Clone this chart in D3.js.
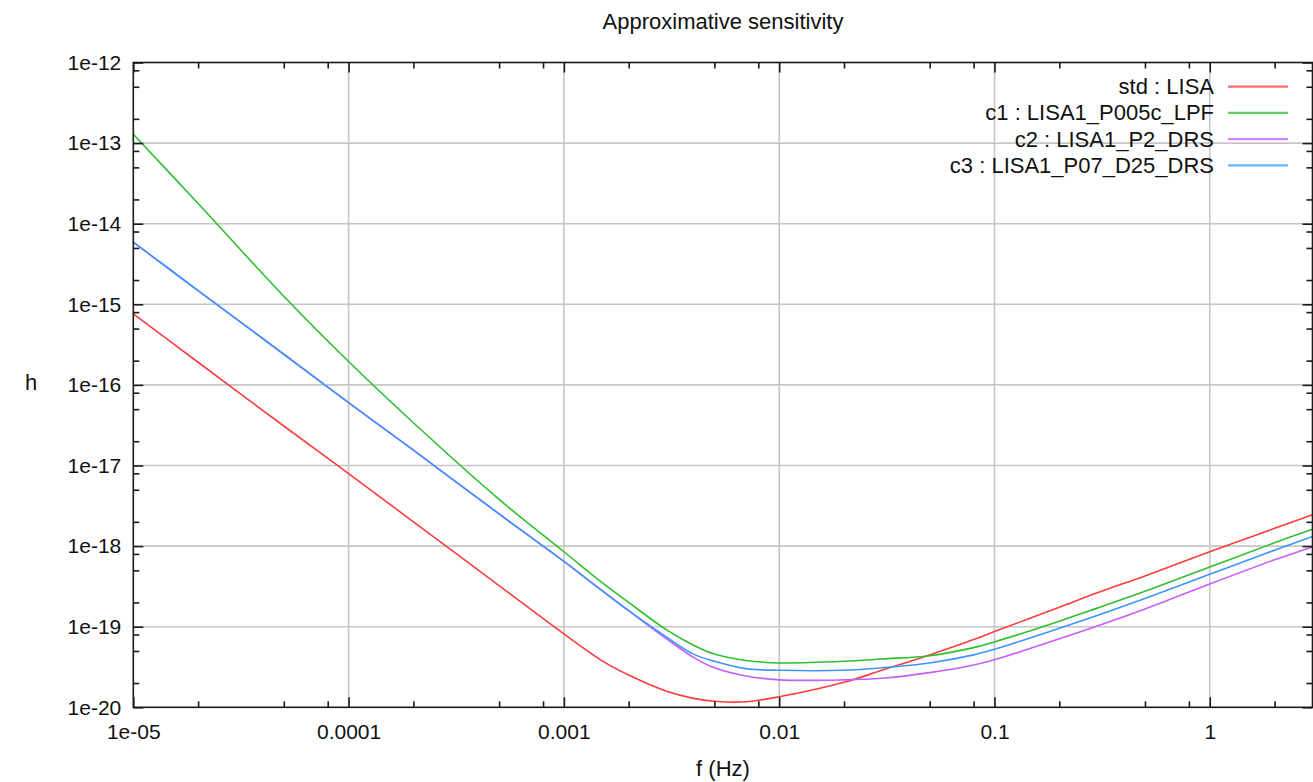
<!DOCTYPE html>
<html>
<head>
<meta charset="utf-8">
<script src="https://cdn.jsdelivr.net/npm/d3@7"></script>
<style>
  body { margin: 0; background: #fff; }
  svg { display: block; font-family: "Liberation Sans", Arial, sans-serif; }
</style>
</head>
<body>
<div id="chart"></div>
<script>
var freqs = [1e-5, 2e-5, 5e-5, 1e-4, 2e-4, 5e-4, 1e-3, 1.5e-3, 2e-3, 3e-3, 4e-3, 5e-3, 7e-3,
  1e-2, 2e-2, 3e-2, 5e-2, 8e-2, 0.1, 0.2, 0.3, 0.5, 1, 2, 3];

var hStd = [7.59e-16, 1.91e-16, 3.09e-17, 7.94e-18, 2.0e-18, 3.24e-19, 8.13e-20, 3.80e-20, 2.51e-20,
  1.58e-20, 1.29e-20, 1.19e-20, 1.17e-20, 1.35e-20, 2.04e-20, 2.88e-20, 4.47e-20, 6.92e-20, 8.71e-20,
  1.74e-19, 2.63e-19, 4.27e-19, 8.51e-19, 1.66e-18, 2.45e-18];

var hC1 = [1.29e-13, 1.78e-14, 1.26e-15, 1.95e-16, 3.39e-17, 3.80e-18, 8.51e-19, 3.55e-19, 2.0e-19,
  9.12e-20, 5.89e-20, 4.57e-20, 3.80e-20, 3.55e-20, 3.72e-20, 3.98e-20, 4.37e-20, 5.50e-20, 6.46e-20,
  1.17e-19, 1.70e-19, 2.75e-19, 5.50e-19, 1.10e-18, 1.62e-18];

var hC2 = [5.89e-15, 1.48e-15, 2.40e-16, 6.03e-17, 1.55e-17, 2.51e-18, 6.46e-19, 2.82e-19, 1.58e-19,
  7.08e-20, 4.17e-20, 3.09e-20, 2.45e-20, 2.19e-20, 2.19e-20, 2.29e-20, 2.69e-20, 3.35e-20, 3.89e-20,
  7.08e-20, 1.02e-19, 1.66e-19, 3.39e-19, 6.76e-19, 9.77e-19];

var hC3 = [5.89e-15, 1.48e-15, 2.40e-16, 6.03e-17, 1.55e-17, 2.51e-18, 6.46e-19, 2.82e-19, 1.58e-19,
  7.41e-20, 4.57e-20, 3.72e-20, 3.02e-20, 2.88e-20, 2.88e-20, 3.09e-20, 3.55e-20, 4.47e-20, 5.25e-20,
  9.55e-20, 1.38e-19, 2.24e-19, 4.47e-19, 8.91e-19, 1.32e-18];

var seriesNames = ["std : LISA", "c1 : LISA1_P005c_LPF", "c2 : LISA1_P2_DRS", "c3 : LISA1_P07_D25_DRS"];
var seriesValues = [hStd, hC1, hC2, hC3];
var seriesColors = ["#ff3c3c", "#2fbf2f", "#c75cff", "#3d95ff"];

var xTickValues = [1e-5, 1e-4, 1e-3, 1e-2, 1e-1, 1];
var xTickLabels = ["1e-05", "0.0001", "0.001", "0.01", "0.1", "1"];
var yTickValues = [1e-12, 1e-13, 1e-14, 1e-15, 1e-16, 1e-17, 1e-18, 1e-19, 1e-20];
var yTickLabels = ["1e-12", "1e-13", "1e-14", "1e-15", "1e-16", "1e-17", "1e-18", "1e-19", "1e-20"];
var minorMult = [2, 5, 8];

var width = 1313, height = 782;
var margin = {top: 62.5, right: 0.5, bottom: 74.7, left: 133.3};

var svg = d3.select("#chart").append("svg")
  .attr("width", width)
  .attr("height", height);

var x = d3.scaleLog()
  .domain([1e-5, 3])
  .range([margin.left, width - margin.right]);

var y = d3.scaleLog()
  .domain([1e-20, 1e-12])
  .range([height - margin.bottom, margin.top]);

// minor ticks at 2, 5, 8 of every decade, kept inside the domain
function minorTicks(scale) {
  var dom = scale.domain();
  var lo = Math.floor(Math.log10(Math.min(dom[0], dom[1])));
  var hi = Math.ceil(Math.log10(Math.max(dom[0], dom[1])));
  var out = [];
  for (var e = lo; e < hi; e++) {
    minorMult.forEach(function (m) {
      var v = m * Math.pow(10, e);
      if (v >= Math.min(dom[0], dom[1]) && v <= Math.max(dom[0], dom[1])) out.push(v);
    });
  }
  return out;
}

var x0 = x.range()[0], x1 = x.range()[1];
var y0 = y.range()[1], y1 = y.range()[0];

// grid
var grid = svg.append("g")
  .attr("stroke", "#c6c6c6")
  .attr("stroke-width", 1.6);

grid.selectAll(".gx").data(xTickValues.slice(1)).join("line")
  .attr("x1", d => x(d)).attr("x2", d => x(d))
  .attr("y1", y0).attr("y2", y1);

grid.selectAll(".gy").data(yTickValues.slice(1, -1)).join("line")
  .attr("x1", x0).attr("x2", x1)
  .attr("y1", d => y(d)).attr("y2", d => y(d));

// curves, purple under blue like the original
var line = d3.line()
  .x(d => x(d[0]))
  .y(d => y(d[1]))
  .curve(d3.curveCatmullRom.alpha(0.5));

var drawOrder = [0, 1, 2, 3];
svg.append("g")
  .attr("fill", "none")
  .attr("stroke-width", 1.6)
  .selectAll("path")
  .data(drawOrder)
  .join("path")
  .attr("stroke", i => seriesColors[i])
  .attr("d", i => line(freqs.map((f, k) => [f, seriesValues[i][k]])));

// axes: ticks point into the plot
var tickStyle = g => g
  .call(g => g.select(".domain").remove())
  .call(g => g.selectAll(".tick line").attr("stroke", "#1a1a1a").attr("stroke-width", 1.6));

var xFmt = d => xTickLabels[xTickValues.indexOf(d)];
var yFmt = d => yTickLabels[yTickValues.indexOf(d)];

svg.append("g")
  .attr("transform", `translate(0,${y1})`)
  .call(d3.axisBottom(x).tickValues(xTickValues).tickFormat(xFmt).tickSizeInner(-10).tickSizeOuter(0).tickPadding(17))
  .call(tickStyle)
  .call(g => g.selectAll("text").attr("fill", "#111").style("font-size", "21px"));

svg.append("g")
  .attr("transform", `translate(0,${y1})`)
  .call(d3.axisBottom(x).tickValues(minorTicks(x)).tickFormat("").tickSizeInner(-6).tickSizeOuter(0))
  .call(tickStyle);

svg.append("g")
  .attr("transform", `translate(0,${y0})`)
  .call(d3.axisTop(x).tickValues(xTickValues).tickFormat("").tickSizeInner(-10).tickSizeOuter(0))
  .call(tickStyle);

svg.append("g")
  .attr("transform", `translate(0,${y0})`)
  .call(d3.axisTop(x).tickValues(minorTicks(x)).tickFormat("").tickSizeInner(-6).tickSizeOuter(0))
  .call(tickStyle);

svg.append("g")
  .attr("transform", `translate(${x0},0)`)
  .call(d3.axisLeft(y).tickValues(yTickValues).tickFormat(yFmt).tickSizeInner(-10).tickSizeOuter(0).tickPadding(12))
  .call(tickStyle)
  .call(g => g.selectAll("text").attr("fill", "#111").style("font-size", "21px"));

svg.append("g")
  .attr("transform", `translate(${x0},0)`)
  .call(d3.axisLeft(y).tickValues(minorTicks(y)).tickFormat("").tickSizeInner(-6).tickSizeOuter(0))
  .call(tickStyle);

svg.append("g")
  .attr("transform", `translate(${x1},0)`)
  .call(d3.axisRight(y).tickValues(yTickValues).tickFormat("").tickSizeInner(-10).tickSizeOuter(0))
  .call(tickStyle);

svg.append("g")
  .attr("transform", `translate(${x1},0)`)
  .call(d3.axisRight(y).tickValues(minorTicks(y)).tickFormat("").tickSizeInner(-6).tickSizeOuter(0))
  .call(tickStyle);

// frame
svg.append("rect")
  .attr("x", x0).attr("y", y0)
  .attr("width", x1 - x0).attr("height", y1 - y0)
  .attr("fill", "none")
  .attr("stroke", "#1a1a1a")
  .attr("stroke-width", 1.6);

// legend, text right aligned with a sample line after it
var legend = svg.append("g");
var legendTop = 86.7, legendStep = 26.2;

legend.selectAll("text").data(seriesNames).join("text")
  .attr("x", 1214)
  .attr("y", (d, i) => legendTop + i * legendStep + 7.5)
  .attr("text-anchor", "end")
  .attr("fill", "#111")
  .style("font-size", "22px")
  .text(d => d);

legend.selectAll("line").data(seriesNames).join("line")
  .attr("x1", 1228).attr("x2", 1288)
  .attr("y1", (d, i) => legendTop + i * legendStep)
  .attr("y2", (d, i) => legendTop + i * legendStep)
  .attr("stroke", (d, i) => seriesColors[i])
  .attr("stroke-width", 2.2)
  .attr("opacity", 0.75);

// titles
svg.append("text")
  .attr("x", 723)
  .attr("y", 29)
  .attr("text-anchor", "middle")
  .attr("fill", "#111")
  .style("font-size", "22px")
  .text("Approximative sensitivity");

svg.append("text")
  .attr("x", 723)
  .attr("y", 776)
  .attr("text-anchor", "middle")
  .attr("fill", "#111")
  .style("font-size", "22px")
  .text("f (Hz)");

svg.append("text")
  .attr("x", 31)
  .attr("y", 390)
  .attr("text-anchor", "middle")
  .attr("fill", "#111")
  .style("font-size", "22px")
  .text("h");
</script>
</body>
</html>
